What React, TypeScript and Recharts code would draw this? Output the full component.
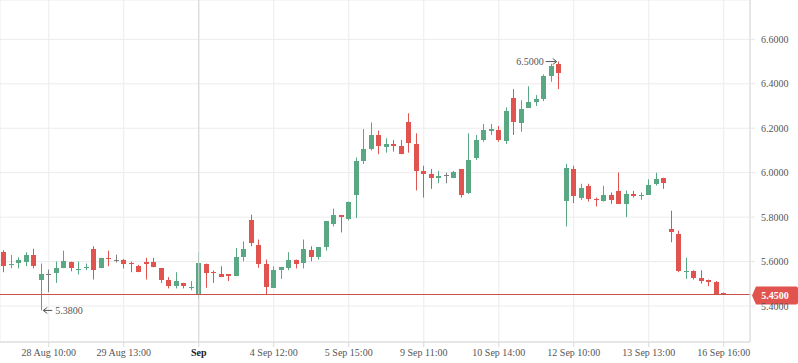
import React from 'react';
import { ComposedChart, Bar, XAxis, YAxis, CartesianGrid, ReferenceLine, ReferenceDot } from 'recharts';

// OHLC, one candle per slot
const opens = [
  5.642, 5.585, 5.592, 5.6, 5.631, 5.519, 5.542, 5.547, 5.57, 5.6,
  5.565, 5.574, 5.658, 5.57, 5.614, 5.606, 5.609, 5.593, 5.582, 5.6,
  5.6, 5.569, 5.519, 5.489, 5.504, 5.479, 5.452, 5.591, 5.553, 5.542,
  5.542, 5.534, 5.619, 5.788, 5.676, 5.587, 5.482, 5.564, 5.572, 5.609,
  5.594, 5.654, 5.619, 5.664, 5.77, 5.808, 5.791, 5.9, 6.053, 6.107,
  6.17, 6.117, 6.129, 6.12, 6.226, 6.129, 6.008, 5.995, 5.978, 5.99,
  5.978, 6.017, 5.908, 6.068, 6.147, 6.189, 6.192, 6.144, 6.337, 6.225,
  6.292, 6.319, 6.331, 6.434, 6.488, 5.871, 6.017, 5.888, 5.941, 5.88,
  5.873, 5.9, 5.918, 5.86, 5.905, 5.893, 5.9, 5.95, 5.977, 5.748,
  5.726, 5.555, 5.557, 5.524, 5.516, 5.507, 5.459,
];
const highs = [
  5.651, 5.63, 5.619, 5.642, 5.658, 5.591, 5.564, 5.6, 5.649, 5.6,
  5.6, 5.591, 5.669, 5.617, 5.649, 5.631, 5.612, 5.6, 5.585, 5.617,
  5.617, 5.569, 5.53, 5.552, 5.504, 5.512, 5.642, 5.591, 5.56, 5.579,
  5.542, 5.661, 5.691, 5.811, 5.699, 5.609, 5.578, 5.576, 5.642, 5.609,
  5.699, 5.669, 5.664, 5.781, 5.838, 5.808, 5.87, 6.068, 6.196, 6.226,
  6.189, 6.155, 6.147, 6.147, 6.267, 6.177, 6.031, 6.017, 6.008, 6.0,
  6.008, 6.017, 6.177, 6.17, 6.219, 6.219, 6.21, 6.294, 6.376, 6.326,
  6.389, 6.349, 6.442, 6.49, 6.5, 6.04, 6.031, 5.95, 5.95, 5.888,
  5.941, 5.911, 6.001, 5.92, 5.918, 5.911, 5.97, 6.0, 5.977, 5.829,
  5.739, 5.617, 5.561, 5.561, 5.519, 5.512, 5.46,
];
const lows = [
  5.552, 5.57, 5.569, 5.579, 5.569, 5.38, 5.462, 5.504, 5.57, 5.556,
  5.542, 5.561, 5.519, 5.57, 5.579, 5.596, 5.569, 5.552, 5.552, 5.519,
  5.574, 5.504, 5.479, 5.479, 5.479, 5.471, 5.433, 5.482, 5.504, 5.53,
  5.512, 5.534, 5.601, 5.669, 5.572, 5.452, 5.482, 5.522, 5.561, 5.569,
  5.569, 5.601, 5.609, 5.649, 5.758, 5.731, 5.785, 5.796, 6.039, 6.1,
  6.083, 6.09, 6.095, 6.083, 6.09, 5.92, 5.888, 5.927, 5.953, 5.953,
  5.975, 5.888, 5.904, 6.057, 6.139, 6.17, 6.139, 6.129, 6.17, 6.184,
  6.292, 6.3, 6.322, 6.409, 6.376, 5.758, 5.863, 5.878, 5.87, 5.848,
  5.87, 5.86, 5.86, 5.8, 5.888, 5.878, 5.9, 5.942, 5.927, 5.687,
  5.552, 5.522, 5.519, 5.501, 5.489, 5.452, 5.449,
];
const closes = [
  5.579, 5.59, 5.609, 5.631, 5.579, 5.542, 5.542, 5.572, 5.604, 5.57,
  5.568, 5.577, 5.561, 5.617, 5.611, 5.606, 5.588, 5.59, 5.552, 5.591,
  5.574, 5.519, 5.489, 5.512, 5.489, 5.487, 5.594, 5.549, 5.551, 5.53,
  5.534, 5.621, 5.657, 5.684, 5.59, 5.485, 5.564, 5.576, 5.605, 5.591,
  5.658, 5.619, 5.664, 5.781, 5.808, 5.8, 5.866, 6.053, 6.107, 6.17,
  6.122, 6.129, 6.122, 6.083, 6.132, 6.009, 5.993, 5.978, 5.986, 5.99,
  6.002, 5.9, 6.057, 6.147, 6.192, 6.196, 6.147, 6.279, 6.229, 6.286,
  6.319, 6.331, 6.434, 6.479, 6.449, 6.021, 5.893, 5.93, 5.883, 5.878,
  5.9, 5.878, 5.86, 5.905, 5.893, 5.9, 5.945, 5.972, 5.953, 5.731,
  5.557, 5.557, 5.524, 5.512, 5.509, 5.456, 5.45,
];

const tickIdx = [6, 16, 26, 36, 46, 56, 66, 76, 86, 96];
const tickLabels = [
  '28 Aug 10:00', '29 Aug 13:00', 'Sep', '4 Sep 12:00', '5 Sep 15:00',
  '9 Sep 11:00', '10 Sep 14:00', '12 Sep 10:00', '13 Sep 13:00', '16 Sep 16:00',
];
const priceTicks = [5.4, 5.6, 5.8, 6.0, 6.2, 6.4, 6.6];
const lastPrice = 5.45;
const monthStart = 26;
const maxIdx = 74;
const minIdx = 5;

const UP = '#59a883';
const DOWN = '#e0534f';
const FLAT = '#7d7d7d';
const FONT = '"Liberation Serif", "Times New Roman", serif';

const data = opens.map((o, i) => ({ i, open: o, high: highs[i], low: lows[i], close: closes[i] }));

function Candle(props: any) {
  const { x, y, width, height, payload } = props;
  const { open, close, high, low } = payload;
  const top = Math.min(y, y + height);
  const h = Math.abs(height);
  const k = h / (high - low);
  const yOf = (v: number) => top + (high - v) * k;
  const color = close > open ? UP : close < open ? DOWN : FLAT;
  const left = Math.round(x + width / 2 - 2.5);
  const cx = left + 2.5;
  const bTop = Math.round(yOf(Math.max(open, close)));
  const bH = Math.max(1, Math.round(yOf(Math.min(open, close))) - bTop);
  return (
    <g>
      <line x1={cx} x2={cx} y1={top} y2={top + h} stroke={color} strokeWidth={1} />
      <rect x={left} y={bTop} width={5} height={bH} fill={color} />
    </g>
  );
}

function XTick(props: any) {
  const { x, y, payload } = props;
  const label = tickLabels[tickIdx.indexOf(payload.value)] ?? '';
  const bold = label === 'Sep';
  return (
    <text x={x} y={y} dy="0.71em" textAnchor="middle" fontSize={10} fontFamily={FONT}
      fill={bold ? '#222' : '#555'} fontWeight={bold ? 'bold' : 'normal'}>
      {label}
    </text>
  );
}

function PriceTag(props: any) {
  const { viewBox } = props;
  if (!viewBox) return null;
  const x = viewBox.x + viewBox.width;
  const y = Math.round(viewBox.y) + 0.5;
  return (
    <g>
      <path d={`M${x + 2},${y} L${x + 6},${y - 9} H${x + 46} Q${x + 48},${y - 9} ${x + 48},${y - 7} V${y + 7} Q${x + 48},${y + 9} ${x + 46},${y + 9} H${x + 6} Z`}
        fill={DOWN} />
      <text x={x + 25} y={y} dy="0.35em" textAnchor="middle" fill="#fff" fontSize={10} fontWeight="bold" fontFamily={FONT}>
        {lastPrice.toFixed(4)}
      </text>
    </g>
  );
}

function HighMark(props: any) {
  const { cx, cy } = props;
  return (
    <g>
      <line x1={cx - 13} x2={cx - 3} y1={cy} y2={cy} stroke="#555" />
      <path d={`M${cx - 6},${cy - 3} L${cx - 2},${cy} L${cx - 6},${cy + 3}`} fill="none" stroke="#555" />
      <text x={cx - 15} y={cy} dy="0.35em" textAnchor="end" fontSize={10} fontFamily={FONT} fill="#555">
        {highs[maxIdx].toFixed(4)}
      </text>
    </g>
  );
}

function LowMark(props: any) {
  const { cx, cy } = props;
  return (
    <g>
      <line x1={cx + 2} x2={cx + 11} y1={cy} y2={cy} stroke="#555" />
      <path d={`M${cx + 6},${cy - 3} L${cx + 2},${cy} L${cx + 6},${cy + 3}`} fill="none" stroke="#555" />
      <text x={cx + 14} y={cy} dy="0.35em" textAnchor="start" fontSize={10} fontFamily={FONT} fill="#555">
        {lows[minIdx].toFixed(4)}
      </text>
    </g>
  );
}

export default function App() {
  return (
    <div style={{ position: 'absolute', left: 0, top: 0, width: 798, height: 363, background: '#fff' }}>
      <ComposedChart width={798} height={363} data={data} margin={{ top: 0, right: 0, bottom: 0, left: 0 }}>
        <CartesianGrid stroke="#ececec" />
        <XAxis dataKey="i" type="number" domain={[-0.5, 99.5]} ticks={tickIdx} interval={0} height={21}
          tickSize={5} tickMargin={2} axisLine={{ stroke: '#d8d8d8' }} tickLine={{ stroke: '#d8d8d8' }}
          tick={<XTick />} allowDataOverflow />
        <YAxis orientation="right" type="number" domain={[5.238, 6.777]} ticks={priceTicks} width={48}
          tickSize={5} tickMargin={6} tickFormatter={(v: number) => v.toFixed(4)}
          tick={{ fill: '#555', fontSize: 10, fontFamily: FONT }}
          axisLine={{ stroke: '#d8d8d8' }} tickLine={{ stroke: '#e6e6e6' }} allowDataOverflow />
        <ReferenceLine x={monthStart} stroke="#d4d4d4" />
        <Bar dataKey={(d: any) => [d.low, d.high]} barSize={5} shape={<Candle />} isAnimationActive={false} />
        <ReferenceLine y={lastPrice} stroke="#c9504c" shapeRendering="crispEdges" label={<PriceTag />} />
        <ReferenceDot x={maxIdx} y={highs[maxIdx]} shape={<HighMark />} />
        <ReferenceDot x={minIdx} y={lows[minIdx]} shape={<LowMark />} />
      </ComposedChart>
    </div>
  );
}
